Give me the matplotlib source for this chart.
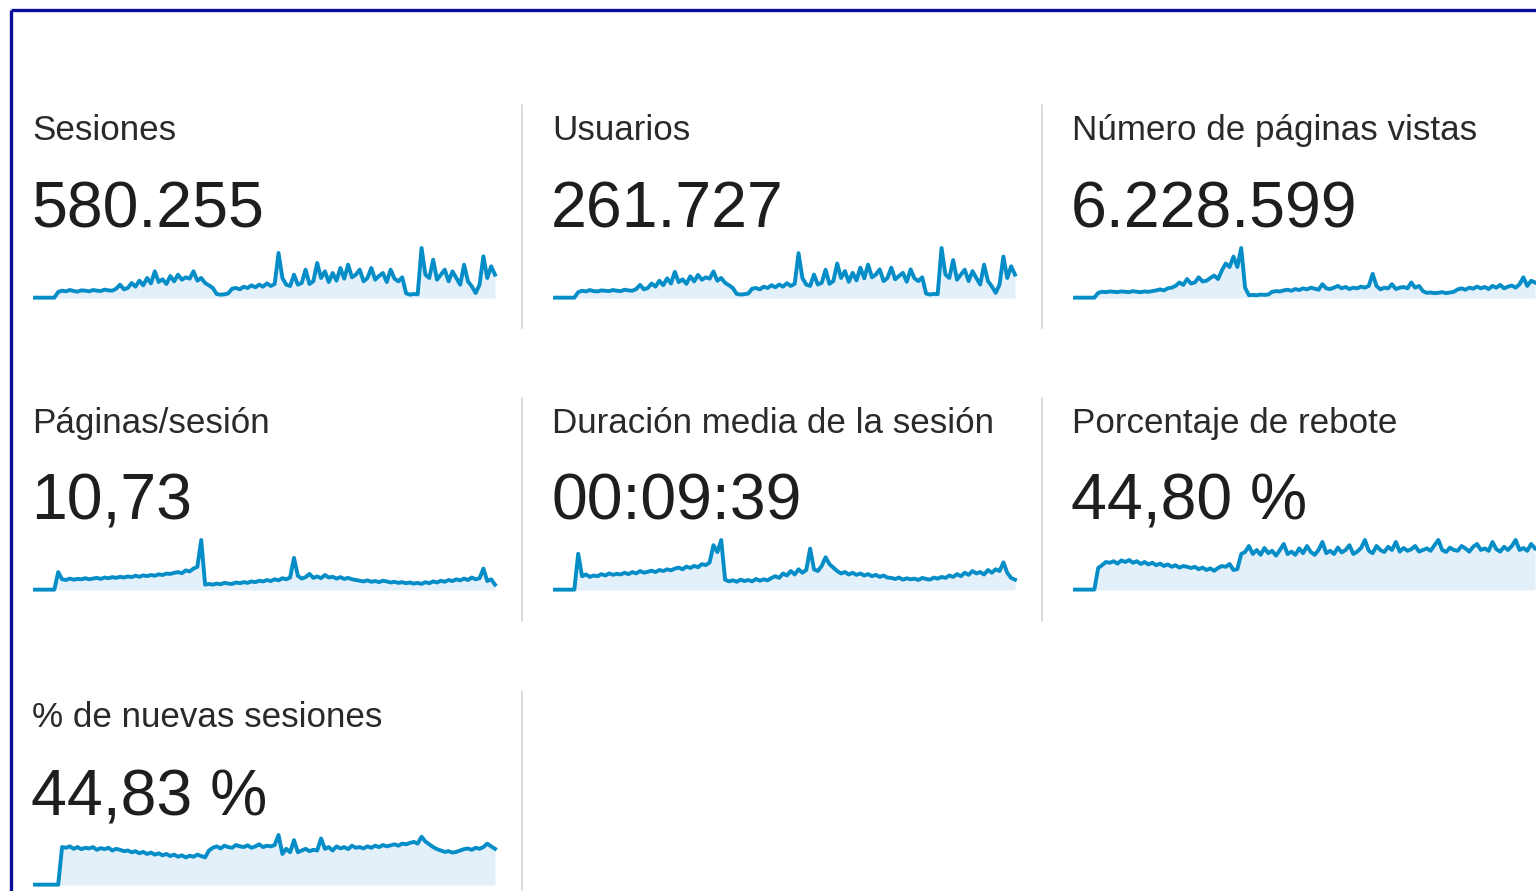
import matplotlib
matplotlib.use("Agg")
import matplotlib.pyplot as plt
import numpy as np

plt.rcParams['font.family'] = ['Liberation Sans', 'DejaVu Sans']

W, H = 1536, 891
DPI = 100

# Metric names and totals, in reading order (row by row)
titles = ["Sesiones", "Usuarios", "Número de páginas vistas",
          "Páginas/sesión", "Duración media de la sesión", "Porcentaje de rebote",
          "% de nuevas sesiones"]
totals = ["580.255", "261.727", "6.228.599",
          "10,73", "00:09:39", "44,80 %",
          "44,83 %"]

# Daily sparkline series (relative values)
sesiones = [1, 1, 1, 1, 1, 1, 18,
            22, 20, 24, 21, 19, 23, 22, 20, 24, 22, 21, 25, 23, 22, 28,
            40, 26, 30, 45, 34, 52, 38, 60, 44, 80, 48, 56, 42, 66, 50, 70, 55, 62, 58, 80, 52, 60, 45, 38, 30,
            12, 10, 11, 14,
            28, 30, 26, 34, 30, 38, 32, 40, 34, 44, 36, 42,
            135, 60, 40,
            36, 70, 40, 45, 85, 42, 50, 105, 60, 80, 48, 75, 52, 90, 58, 100, 62, 70, 85, 50, 60, 90, 55, 66, 75, 48, 85, 58, 50, 62,
            14, 10, 12, 11,
            150,
            70, 60, 115, 55, 70, 85, 50, 80, 60, 40, 100, 50, 35, 15, 40, 125, 60, 95, 70]

usuarios = [1, 1, 1, 1, 1, 1, 17,
            21, 19, 23, 20, 19, 22, 21, 20, 23, 21, 20, 24, 22, 21, 26,
            38, 25, 29, 42, 33, 50, 37, 57, 42, 76, 46, 54, 41, 63, 48, 67, 53, 60, 56, 77, 50, 58, 44, 37, 29,
            12, 10, 11, 13,
            27, 29, 25, 33, 29, 37, 31, 39, 33, 43, 35, 41,
            130, 58, 39,
            35, 68, 39, 44, 82, 41, 49, 100, 58, 78, 47, 73, 51, 88, 57, 97, 60, 68, 83, 49, 58, 88, 54, 64, 73, 47, 83, 57, 49, 60,
            13, 10, 12, 11,
            145,
            68, 58, 110, 53, 68, 82, 49, 78, 58, 39, 97, 49, 34, 15, 39, 120, 58, 92, 68]

paginas_vistas = [1, 1, 1, 1, 1, 1, 15,
                  18, 17, 19, 18, 17, 19, 18, 17, 20, 18, 17, 19, 18, 20, 22,
                  25, 22, 28, 30, 35, 45, 38, 55, 42, 45, 60, 48, 50, 58, 65, 55, 80, 100, 90, 120, 90, 145,
                  30,
                  8, 9, 8, 10, 9, 10,
                  18, 20, 19, 22, 24, 21, 26, 23, 28, 25, 30, 27, 24, 40, 28, 26, 30, 35, 28, 32, 26, 30, 28, 33, 30, 35,
                  70,
                  35, 25, 30, 28, 40, 26, 30, 32, 28, 45, 30, 35, 20,
                  15, 16, 14, 15, 17, 14, 16, 18,
                  25, 28, 24, 30, 27, 33, 28, 32, 26, 35, 30, 38, 28, 33, 36, 30, 40, 60, 35, 50, 45]

paginas_sesion = [1, 1, 1, 1, 1, 1, 50,
                  30, 28, 32, 29, 31, 30, 33, 30, 32, 34, 31, 35, 33, 36, 34, 37, 35, 38, 36, 40, 37, 41, 39, 42, 40, 44, 42, 46, 45, 48, 50, 47, 55, 52, 60, 65,
                  140, 15,
                  17, 15, 18, 16, 20, 18, 17, 21, 19, 22, 20, 24,
                  22, 26, 24, 28, 25, 30, 27, 33, 30, 35,
                  90,
                  40, 32, 36, 45, 34, 38, 33, 42, 35, 37, 32, 36, 31, 34, 30,
                  28, 26, 24, 27, 23, 25, 22, 26, 24, 21, 23, 20, 22, 19, 21, 18, 20, 17, 22, 19, 24, 21, 26, 23, 28, 25, 30, 27,
                  32, 28, 35, 30, 33,
                  60,
                  25, 30, 15]

duracion = [1, 1, 1, 1, 1, 1, 105,
            40, 45, 38, 42, 40, 46, 42, 48, 44, 47, 45, 50, 46, 52, 48, 55, 50, 53, 56, 52, 58, 55, 60, 57, 62, 65, 60, 68, 64, 70, 66, 75, 72, 80,
            130, 110, 145,
            30,
            25, 28, 24, 30, 26, 29, 25, 32, 27, 31, 28, 35,
            40, 35, 48, 42, 55, 45, 60, 50, 58,
            120, 60, 55, 70, 95, 75, 65,
            55, 48, 52, 45, 50, 44, 48, 42, 46, 40, 44, 38, 42, 36,
            35, 32, 36, 30, 34, 31, 33, 29, 35, 32, 30, 36, 33, 38, 35,
            42, 38, 46, 40, 50, 44, 55, 48, 52, 45, 58, 50, 60, 55,
            80,
            50, 35, 30]

rebote = [1, 1, 1, 1, 1, 1, 55,
          62, 70, 68, 72, 66, 74, 70, 75, 68, 72, 65, 70, 64, 68, 62, 66, 60, 64, 58, 62,
          56, 60, 58, 55, 58, 52, 56, 50, 54, 48, 55, 60, 58, 65, 50, 52,
          90,
          95, 110, 90, 100, 88, 105, 92, 98, 86, 100,
          115, 90, 96, 88, 104, 92, 110, 95, 88, 100,
          120, 92, 98, 90, 106, 94, 100, 112, 90, 96,
          105, 125, 98, 92, 110, 100, 95, 108, 100, 120,
          96, 105, 98, 102, 110, 96, 100, 104, 98, 112,
          125, 100, 95, 106, 100, 98, 110, 104, 96, 108,
          115, 100, 104, 98, 120, 102, 96, 108, 100, 110,
          125, 100, 105, 98, 115, 104]

nuevas_sesiones = [1, 1, 1, 1, 1, 1, 1,
                   110,
                   108, 112, 105, 110, 104, 108, 106, 110, 102, 107, 104, 108, 100, 105, 102, 98, 100, 95, 98, 92, 96, 90, 94,
                   88, 92, 86, 90, 84, 88, 82, 86, 80, 85, 82, 88, 84, 80,
                   100, 108, 112, 106, 114, 110, 108, 116, 112, 110, 115, 108, 112, 118, 110, 114, 112, 116,
                   145, 90, 105, 95, 130,
                   95, 100, 105, 98, 102,
                   100, 135,
                   105, 110, 100, 112, 106, 110, 104, 114, 108, 110, 106, 112, 108, 114, 110, 116, 112, 115, 118, 114, 120,
                   118, 122, 125, 120, 140, 126, 118,
                   110, 104, 100, 96, 98, 94, 96, 100,
                   104, 106, 102, 108, 105, 110, 120, 112, 105]

series = [sesiones, usuarios, paginas_vistas,
          paginas_sesion, duracion, rebote,
          nuevas_sesiones]

LINE = "#058dc7"
FILL = "#e3f0f9"
TITLE_COLOR = "#2a2a2a"
VALUE_COLOR = "#1e1e1e"

fig = plt.figure(figsize=(W / DPI, H / DPI), dpi=DPI, facecolor="white")

# Background canvas in pixel coordinates for text, dividers and frame
bg = fig.add_axes([0, 0, 1, 1])
bg.set_xlim(0, W)
bg.set_ylim(H, 0)
bg.axis("off")

# Frame (top and left edges)
bg.plot([10.5, W], [9.5, 9.5], color="#0b0b9c", lw=2.4, solid_capstyle="butt")
bg.plot([10.5, 10.5], [9.5, H], color="#0b0b9c", lw=2.4, solid_capstyle="butt")

col_x = [32, 552, 1072]
row_title_base = [140, 433, 727]
row_value_base = [228, 520, 815]
row_spark_base = [298, 590, 885]
SPARK_W, SPARK_H = 460, 50

# Vertical dividers between tiles
for (y0, y1) in [(105, 328), (398, 621)]:
    for x in (522, 1042):
        bg.plot([x, x], [y0, y1], color="#d4d4d4", lw=1.2)
bg.plot([522, 522], [692, H], color="#d4d4d4", lw=1.2)

for k, (title, total, vals) in enumerate(zip(titles, totals, series)):
    r, c = divmod(k, 3)
    x0 = col_x[c]
    bg.text(x0, row_title_base[r], title, fontsize=25.2, color=TITLE_COLOR,
            va="baseline", ha="left")
    bg.text(x0 - 1, row_value_base[r], total, fontsize=46.4, color=VALUE_COLOR,
            va="baseline", ha="left")

    left = x0 + 3
    base = row_spark_base[r]
    ax = fig.add_axes([left / W, 1 - base / H, SPARK_W / W, SPARK_H / H])
    y = np.asarray(vals, dtype=float)
    x = np.arange(len(y))
    ax.fill_between(x, 0, y, color=FILL, lw=0)
    ax.plot(x, y, color=LINE, lw=2.8, solid_joinstyle="round", clip_on=False)
    ax.set_xlim(0, len(y) - 1)
    ax.set_ylim(0, y.max())
    ax.axis("off")

fig.savefig("out.png", dpi=DPI, facecolor="white")
